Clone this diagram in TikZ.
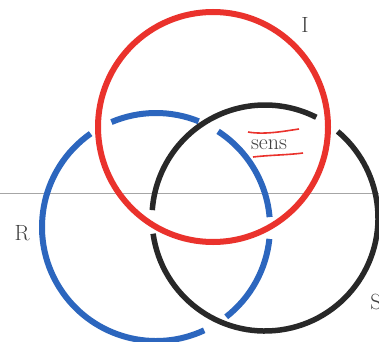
\documentclass[tikz,border=0pt]{standalone}
\usepackage{tikz}
\usetikzlibrary{calc}
\definecolor{ringred}{RGB}{234,50,44}
\definecolor{ringblue}{RGB}{44,102,190}
\definecolor{ringblack}{RGB}{40,40,40}

\begin{document}
\begin{tikzpicture}[x=1pt,y=1pt,
    ring/.style={line width=6pt},
    lbl/.style={font=\fontsize{22}{24}\selectfont, text=black!75, inner sep=0pt}]
    \useasboundingbox (0,0) rectangle (379,341);
    \fill[white] (0,0) rectangle (379,341);
    \draw[black!35, line width=0.8pt] (0,148) -- (379,148);
    % centres of the three rings
    \coordinate (cR) at (156,114);
    \coordinate (cS) at (265,123);
    \coordinate (cI) at (213,214);
    % R: lowest ring
    \draw[ring, ringblue] ($(cR)+(5:114)$) arc (5:57:114);
    \draw[ring, ringblue] ($(cR)+(68:114)$) arc (68:113:114);
    \draw[ring, ringblue] ($(cR)+(125:114)$) arc (125:295:114);
    \draw[ring, ringblue] ($(cR)+(308:114)$) arc (308:354:114);
    % S: over R, under I
    \draw[ring, ringblack, line width=5.5pt] ($(cS)+(63:113)$) arc (63:176:113);
    \draw[ring, ringblack, line width=5.5pt] ($(cS)+(188:113)$) arc (188:410:113);
    % I: on top
    \draw[ring, ringred] (cI) circle (115);
    % labels
    \node[lbl] (i) at (305,316) {I};
    \node[lbl] (r) at (22,108) {R};
    \node[lbl] (s) at (376,39) {S};
    \node[lbl] (sens) at (269,196.5) {sens};
    % red marks round sens
    \draw[ringred, line width=1.6pt] (248,209) .. controls (265,206) and (285,210) .. (299,212);
    \draw[ringred, line width=1.6pt] (253,184) .. controls (270,186) and (288,186) .. (303,188);
\end{tikzpicture}
\end{document}
